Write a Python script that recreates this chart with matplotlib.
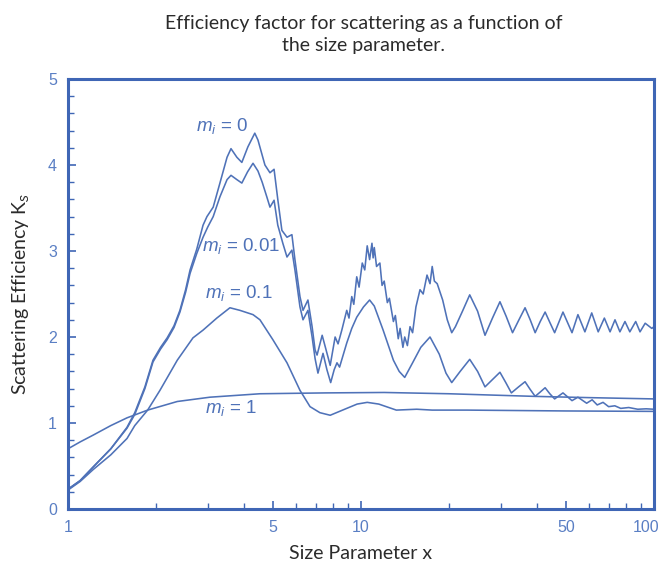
import numpy as np
import matplotlib
matplotlib.use("Agg")
import matplotlib.pyplot as plt
from matplotlib.ticker import FixedLocator, NullFormatter, FixedFormatter
from matplotlib.transforms import ScaledTranslation

# ---- data (size parameter x, efficiency K_s) ----
x_m0 = [1.0, 1.1, 1.22, 1.4, 1.59, 1.69, 1.83, 1.95, 2.07, 2.18, 2.3, 2.41, 2.52,
        2.61, 2.75, 2.89, 2.98, 3.13, 3.3, 3.49, 3.6, 3.77, 3.92, 4.11, 4.34, 4.45,
        4.7, 4.89, 5.05, 5.2, 5.37, 5.59, 5.81, 5.95, 6.19, 6.34, 6.59, 6.81, 6.97,
        7.08, 7.37, 7.6, 7.85, 8.16, 8.35, 8.6, 8.94, 9.1, 9.3, 9.45, 9.67, 9.85,
        10.1, 10.3, 10.5, 10.7, 10.9, 11.0, 11.1, 11.3, 11.6, 11.8, 12.0, 12.3,
        12.5, 12.9, 13.1, 13.4, 13.6, 13.9, 14.1, 14.4, 14.7, 15.0, 15.4, 15.9,
        16.3, 16.8, 17.2, 17.5, 17.8, 18.2, 19.0, 19.7, 20.4, 21.0, 22.2, 23.5,
        25.0, 26.5, 28.1, 29.8, 31.3, 32.9, 34.6, 36.3, 37.8, 39.3, 40.9, 42.5,
        44.1, 45.8, 48.9, 52.5, 55.0, 58.1, 61.3, 64.5, 67.7, 70.8, 73.6, 76.5,
        79.6, 82.7, 86.6, 89.6, 93.3, 98.3, 100.0]
k_m0 = [0.23, 0.33, 0.49, 0.70, 0.95, 1.12, 1.42, 1.73, 1.88, 1.99, 2.13, 2.31, 2.55,
        2.78, 3.02, 3.30, 3.40, 3.51, 3.79, 4.09, 4.19, 4.09, 4.03, 4.21, 4.37, 4.29,
        4.00, 3.91, 3.95, 3.60, 3.24, 3.16, 3.19, 2.90, 2.47, 2.31, 2.43, 2.12, 1.85,
        1.79, 2.02, 1.85, 1.67, 2.00, 1.92, 2.08, 2.31, 2.22, 2.47, 2.38, 2.70, 2.58,
        2.86, 2.78, 3.06, 2.90, 3.09, 2.92, 3.04, 2.82, 2.86, 2.60, 2.65, 2.40,
        2.45, 2.18, 2.25, 1.98, 2.10, 1.88, 2.00, 1.90, 2.12, 2.05, 2.35, 2.55,
        2.50, 2.72, 2.62, 2.82, 2.65, 2.62, 2.43, 2.20, 2.05, 2.12, 2.30, 2.49,
        2.30, 2.02, 2.22, 2.41, 2.24, 2.05, 2.20, 2.34, 2.20, 2.05, 2.18, 2.29,
        2.17, 2.05, 2.29, 2.05, 2.26, 2.06, 2.28, 2.06, 2.22, 2.06, 2.20, 2.06,
        2.18, 2.06, 2.18, 2.06, 2.16, 2.10, 2.12]

x_m001 = [1.0, 1.1, 1.22, 1.4, 1.59, 1.69, 1.83, 1.95, 2.07, 2.18, 2.3, 2.41, 2.52,
          2.61, 2.75, 2.89, 3.0, 3.13, 3.3, 3.49, 3.6, 3.77, 3.92, 4.1, 4.28, 4.45,
          4.6, 4.77, 4.89, 5.05, 5.2, 5.41, 5.59, 5.81, 5.95, 6.19, 6.34, 6.59, 6.81,
          6.97, 7.13, 7.42, 7.65, 7.88, 8.1, 8.28, 8.45, 8.94, 9.3, 9.67, 10.2, 10.7,
          11.1, 11.9, 12.9, 13.5, 14.1, 15.0, 16.0, 17.2, 18.5, 19.5, 20.4, 21.8,
          23.5, 25.0, 26.5, 28.0, 29.8, 31.2, 32.6, 34.5, 36.3, 37.8, 39.3, 40.9,
          42.5, 44.1, 45.8, 48.9, 52.5, 55.0, 58.9, 61.5, 64.0, 67.0, 70.0, 73.5,
          77.0, 82.0, 88.0, 94.0, 100.0]
k_m001 = [0.23, 0.33, 0.49, 0.70, 0.94, 1.10, 1.40, 1.71, 1.86, 1.97, 2.11, 2.29, 2.52,
          2.74, 2.97, 3.16, 3.28, 3.40, 3.63, 3.83, 3.88, 3.83, 3.79, 3.92, 4.02, 3.93,
          3.80, 3.63, 3.51, 3.59, 3.30, 3.09, 2.93, 3.01, 2.78, 2.35, 2.20, 2.31, 2.00,
          1.75, 1.58, 1.81, 1.62, 1.47, 1.62, 1.70, 1.65, 1.93, 2.10, 2.23, 2.35, 2.43,
          2.36, 2.08, 1.73, 1.60, 1.53, 1.70, 1.88, 2.00, 1.80, 1.58, 1.47, 1.60,
          1.74, 1.60, 1.42, 1.50, 1.59, 1.47, 1.35, 1.42, 1.48, 1.39, 1.31, 1.36,
          1.41, 1.34, 1.28, 1.35, 1.26, 1.30, 1.23, 1.27, 1.21, 1.24, 1.19, 1.20,
          1.17, 1.18, 1.16, 1.165, 1.16]

x_m01 = [1.0, 1.1, 1.22, 1.4, 1.59, 1.69, 1.87, 2.06, 2.36, 2.67, 2.89, 3.22, 3.57,
         3.86, 4.28, 4.52, 5.0, 5.59, 6.19, 6.7, 7.24, 7.85, 8.94, 9.7, 10.5, 11.5,
         13.2, 14.3, 15.5, 17.5, 23.0, 50.0, 100.0]
k_m01 = [0.22, 0.32, 0.46, 0.63, 0.82, 0.97, 1.15, 1.38, 1.73, 1.99, 2.08, 2.22, 2.34,
         2.31, 2.26, 2.20, 1.97, 1.70, 1.38, 1.19, 1.12, 1.09, 1.17, 1.22, 1.24, 1.22,
         1.15, 1.155, 1.16, 1.15, 1.15, 1.14, 1.135]

x_m1 = [1.0, 1.1, 1.22, 1.4, 1.59, 1.87, 2.36, 3.05, 4.52, 7.6, 12.0, 20.0, 38.7, 60.0, 100.0]
k_m1 = [0.70, 0.78, 0.86, 0.97, 1.06, 1.15, 1.25, 1.30, 1.34, 1.35, 1.355, 1.34, 1.31, 1.295, 1.28]

curve_labels = ["$m_i$ = 0", "$m_i$ = 0.01", "$m_i$ = 0.1", "$m_i$ = 1"]
label_x = [2.73, 2.87, 2.93, 2.93]
label_y = [4.45, 3.06, 2.51, 1.17]

x_ticks = [1, 5, 10, 50, 100]
x_ticklabels = ["1", "5", "10", "50", "100"]
x_minor = [2, 3, 4, 6, 7, 8, 9, 20, 30, 40, 60, 70, 80, 90]

# ---- style ----
plt.rcParams["mathtext.fontset"] = "custom"
plt.rcParams["mathtext.it"] = "Liberation Sans:italic"
plt.rcParams["mathtext.rm"] = "Liberation Sans"

spine_c = "#3f66b5"
line_c = "#4f72b8"
tick_c = "#5a7fc4"
text_c = "#2b2b2b"

fig = plt.figure(figsize=(6.64, 5.72), dpi=100)
ax = fig.add_axes([68 / 664, 63 / 572, 586 / 664, 430 / 572])

for xs, ks in [(x_m0, k_m0), (x_m001, k_m001), (x_m01, k_m01), (x_m1, k_m1)]:
    ax.plot(xs, ks, color=line_c, lw=1.15)

for lab, lx, ly in zip(curve_labels, label_x, label_y):
    ax.text(lx, ly, lab, color=line_c, fontsize=13.5, family="Liberation Sans",
            va="center", ha="left")

ax.set_xscale("log")
ax.set_xlim(1, 100)
ax.set_ylim(0, 5)

ax.xaxis.set_major_locator(FixedLocator(x_ticks))
ax.xaxis.set_major_formatter(FixedFormatter(x_ticklabels))
ax.xaxis.set_minor_locator(FixedLocator(x_minor))
ax.xaxis.set_minor_formatter(NullFormatter())
ax.set_yticks(range(6))
ax.set_yticks(np.arange(0, 5.01, 0.2), minor=True)

ax.tick_params(which="both", direction="in", color=spine_c, labelcolor=tick_c,
               labelsize=11.5, top=False, right=False)
ax.tick_params(which="major", length=6, width=1.2, pad=8)
ax.tick_params(which="minor", length=4, width=1.0)
for lbl in ax.get_xticklabels() + ax.get_yticklabels():
    lbl.set_family("Liberation Sans")

# keep the "100" label inside the figure
last = ax.get_xticklabels()[-1]
last.set_transform(last.get_transform() + ScaledTranslation(-6 / 72, 0, fig.dpi_scale_trans))

for sp in ax.spines.values():
    sp.set_color(spine_c)
    sp.set_linewidth(2.2)

ax.set_xlabel("Size Parameter x", fontsize=14, family="Lato", color=text_c, labelpad=7)
ax.set_ylabel("Scattering Efficiency K$_s$", fontsize=14, family="Lato", color=text_c,
              labelpad=12)
fig.text(0.548, 0.973, "Efficiency factor for scattering as a function of\nthe size parameter.",
         ha="center", va="top", fontsize=14, family="Lato", color=text_c, linespacing=1.3)

fig.savefig("out.png", dpi=100)
